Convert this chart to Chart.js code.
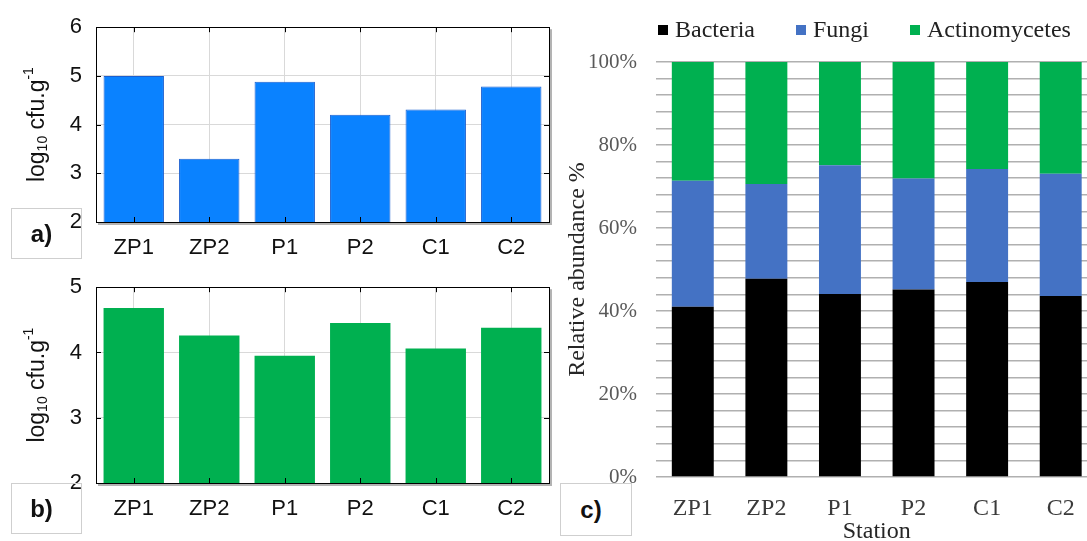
<!DOCTYPE html>
<html>
<head>
<meta charset="utf-8">
<script src="https://cdn.jsdelivr.net/npm/chart.js@4/dist/chart.umd.min.js"></script>
<style>
  html, body { margin: 0; padding: 0; background: #fff; overflow: hidden; width: 1087px; height: 541px; }
  canvas { position: absolute; }
  .tag {
    position: absolute; box-sizing: border-box; border: 1px solid #cfcfcf;
    font: bold 24px "Liberation Sans", Arial, sans-serif; color: #111;
    display: flex; align-items: center; justify-content: center; z-index: 2;
  }
  #legendC {
    position: absolute; left: 658px; top: 16px; display: flex; gap: 41px;
    font: 24px "Liberation Serif", "Times New Roman", serif; color: #222; z-index: 2;
  }
  #legendC .item { display: flex; align-items: center; }
  #legendC .sw { width: 10px; height: 10px; margin-right: 7px; }
</style>
</head>
<body>
<canvas id="chartA" width="560" height="270" style="left:0;top:0"></canvas>
<canvas id="chartB" width="560" height="281" style="left:0;top:260px"></canvas>
<canvas id="chartC" width="560" height="550" style="left:560px;top:0"></canvas>
<div class="tag" style="left:11px;top:208px;width:71px;height:51px;padding-right:10px">a)</div>
<div class="tag" style="left:11px;top:483px;width:71px;height:51px;padding-right:10px">b)</div>
<div class="tag" style="left:560px;top:483px;width:72px;height:53px;background:#fff;padding-right:10px">c)</div>
<div id="legendC"></div>

<script>
const stations = ['ZP1', 'ZP2', 'P1', 'P2', 'C1', 'C2'];

// panel a) and b): log10 cfu/g
const countsA = [5.0, 3.3, 4.88, 4.2, 4.31, 4.78];
const countsB = [4.68, 4.26, 3.95, 4.45, 4.06, 4.38];
const ticksA = [2, 3, 4, 5, 6];
const ticksB = [2, 3, 4, 5];

// panel c): relative abundance %
const bacteriaPct = [41.0, 47.8, 44.1, 45.2, 47.0, 43.6];
const fungiPct = [30.4, 22.8, 31.0, 26.7, 27.2, 29.5];
const actinoPct = [28.6, 29.4, 24.9, 28.1, 25.8, 26.9];
const pctTicks = [0, 20, 40, 60, 80, 100];

const SANS = '"Liberation Sans", Arial, sans-serif';
const SERIF = '"Liberation Serif", "Times New Roman", serif';

Chart.defaults.font.family = SANS;
Chart.defaults.animation = false;

// black frame, grey shadow and inward ticks around the plot
const framePlugin = {
  id: 'frame',
  afterDatasetsDraw(chart) {
    const { ctx, chartArea: { left, top, right, bottom }, scales: { x, y } } = chart;
    ctx.save();
    ctx.strokeStyle = '#b3b3b3';
    ctx.lineWidth = 2;
    ctx.beginPath();
    ctx.moveTo(left + 2, bottom + 2);
    ctx.lineTo(right + 2, bottom + 2);
    ctx.lineTo(right + 2, top + 2);
    ctx.stroke();

    ctx.strokeStyle = '#000';
    ctx.lineWidth = 1;
    ctx.strokeRect(Math.round(left) + 0.5, Math.round(top) + 0.5, Math.round(right - left), Math.round(bottom - top));

    ctx.beginPath();
    x.ticks.forEach((t, i) => {
      const px = Math.round(x.getPixelForTick(i)) + 0.5;
      ctx.moveTo(px, top); ctx.lineTo(px, top + 5);
      ctx.moveTo(px, bottom); ctx.lineTo(px, bottom - 5);
    });
    y.ticks.forEach((t, i) => {
      const py = Math.round(y.getPixelForTick(i)) + 0.5;
      ctx.moveTo(left, py); ctx.lineTo(left + 5, py);
      ctx.moveTo(right, py); ctx.lineTo(right - 5, py);
    });
    ctx.stroke();
    ctx.restore();
  }
};

// y title with subscript / superscript: log10 cfu.g-1
const unitTitlePlugin = {
  id: 'unitTitle',
  afterDraw(chart) {
    const { ctx, chartArea } = chart;
    const parts = [
      { text: 'log', size: 23, shift: 0 },
      { text: '10', size: 14, shift: 3 },
      { text: ' cfu.g', size: 23, shift: 0 },
      { text: '-1', size: 14, shift: -11 }
    ];
    ctx.save();
    let total = 0;
    parts.forEach(p => {
      ctx.font = p.size + 'px ' + SANS;
      p.w = ctx.measureText(p.text).width;
      total += p.w;
    });
    ctx.translate(44, (chartArea.top + chartArea.bottom) / 2);
    ctx.rotate(-Math.PI / 2);
    ctx.fillStyle = '#111';
    ctx.textBaseline = 'alphabetic';
    ctx.textAlign = 'left';
    let cx = -total / 2;
    parts.forEach(p => {
      ctx.font = p.size + 'px ' + SANS;
      ctx.fillText(p.text, cx, p.shift);
      cx += p.w;
    });
    ctx.restore();
  }
};

function countChart(id, values, ticks, color, border, xHeight) {
  return new Chart(document.getElementById(id), {
    type: 'bar',
    data: {
      labels: stations,
      datasets: [{
        data: values,
        backgroundColor: color,
        borderColor: border,
        borderWidth: border ? 1 : 0,
        categoryPercentage: 0.8,
        barPercentage: 1
      }]
    },
    options: {
      responsive: false,
      layout: { padding: { top: 25, right: 11, left: 0, bottom: 0 } },
      plugins: { legend: { display: false }, tooltip: { enabled: false } },
      scales: {
        x: {
          grid: { offset: false, color: '#d9d9d9', drawTicks: false },
          border: { display: false },
          ticks: { padding: 13, color: '#111', font: { size: 22 } },
          afterFit: s => { s.height = xHeight; }
        },
        y: {
          min: ticks[0],
          max: ticks[ticks.length - 1],
          grid: { color: '#d9d9d9', drawTicks: false },
          border: { display: false },
          ticks: { stepSize: 1, padding: 14, color: '#111', font: { size: 22 } },
          afterFit: s => { s.width = 96; }
        }
      }
    },
    plugins: [framePlugin, unitTitlePlugin]
  });
}

countChart('chartA', countsA, ticksA, '#0a82ff', '#1a5fd0', 48);
countChart('chartB', countsB, ticksB, '#00b050', null, 58);

// panel c)
const groups = [
  { name: 'Bacteria', values: bacteriaPct, color: '#000000' },
  { name: 'Fungi', values: fungiPct, color: '#4472c4' },
  { name: 'Actinomycetes', values: actinoPct, color: '#00b050' }
];

const legend = document.getElementById('legendC');
groups.forEach(g => {
  const item = document.createElement('div');
  item.className = 'item';
  const sw = document.createElement('span');
  sw.className = 'sw';
  sw.style.background = g.color;
  const label = document.createElement('span');
  label.textContent = g.name;
  item.appendChild(sw);
  item.appendChild(label);
  legend.appendChild(item);
});

new Chart(document.getElementById('chartC'), {
  type: 'bar',
  data: {
    labels: stations,
    datasets: groups.map(g => ({
      label: g.name,
      data: g.values,
      backgroundColor: g.color,
      borderWidth: 0,
      categoryPercentage: 1,
      barPercentage: 0.57
    }))
  },
  options: {
    responsive: false,
    layout: { padding: { top: 62, right: 22.5, left: 0, bottom: 0 } },
    plugins: { legend: { display: false }, tooltip: { enabled: false } },
    scales: {
      x: {
        stacked: true,
        grid: { display: false },
        border: { display: false },
        ticks: { padding: 9, color: '#3a3a3a', font: { family: SERIF, size: 24 } },
        title: {
          display: true, text: 'Station', color: '#262626',
          font: { family: SERIF, size: 24 }, padding: { top: 0, bottom: 4 }
        },
        afterFit: s => { s.height = 73; }
      },
      y: {
        stacked: true,
        min: pctTicks[0],
        max: pctTicks[pctTicks.length - 1],
        grid: { color: '#b0b0b0', lineWidth: 1.5, drawTicks: false },
        border: { display: false },
        ticks: {
          stepSize: 4,
          autoSkip: false,
          padding: 19,
          color: '#595959',
          font: { family: SERIF, size: 21 },
          callback: v => pctTicks.includes(v) ? v + '%' : ''
        },
        title: {
          display: true, text: 'Relative abundance %', color: '#262626',
          font: { family: SERIF, size: 24 }, padding: { top: 3, bottom: 0 }
        },
        afterFit: s => { s.width = 96; }
      }
    }
  }
});
</script>
</body>
</html>
